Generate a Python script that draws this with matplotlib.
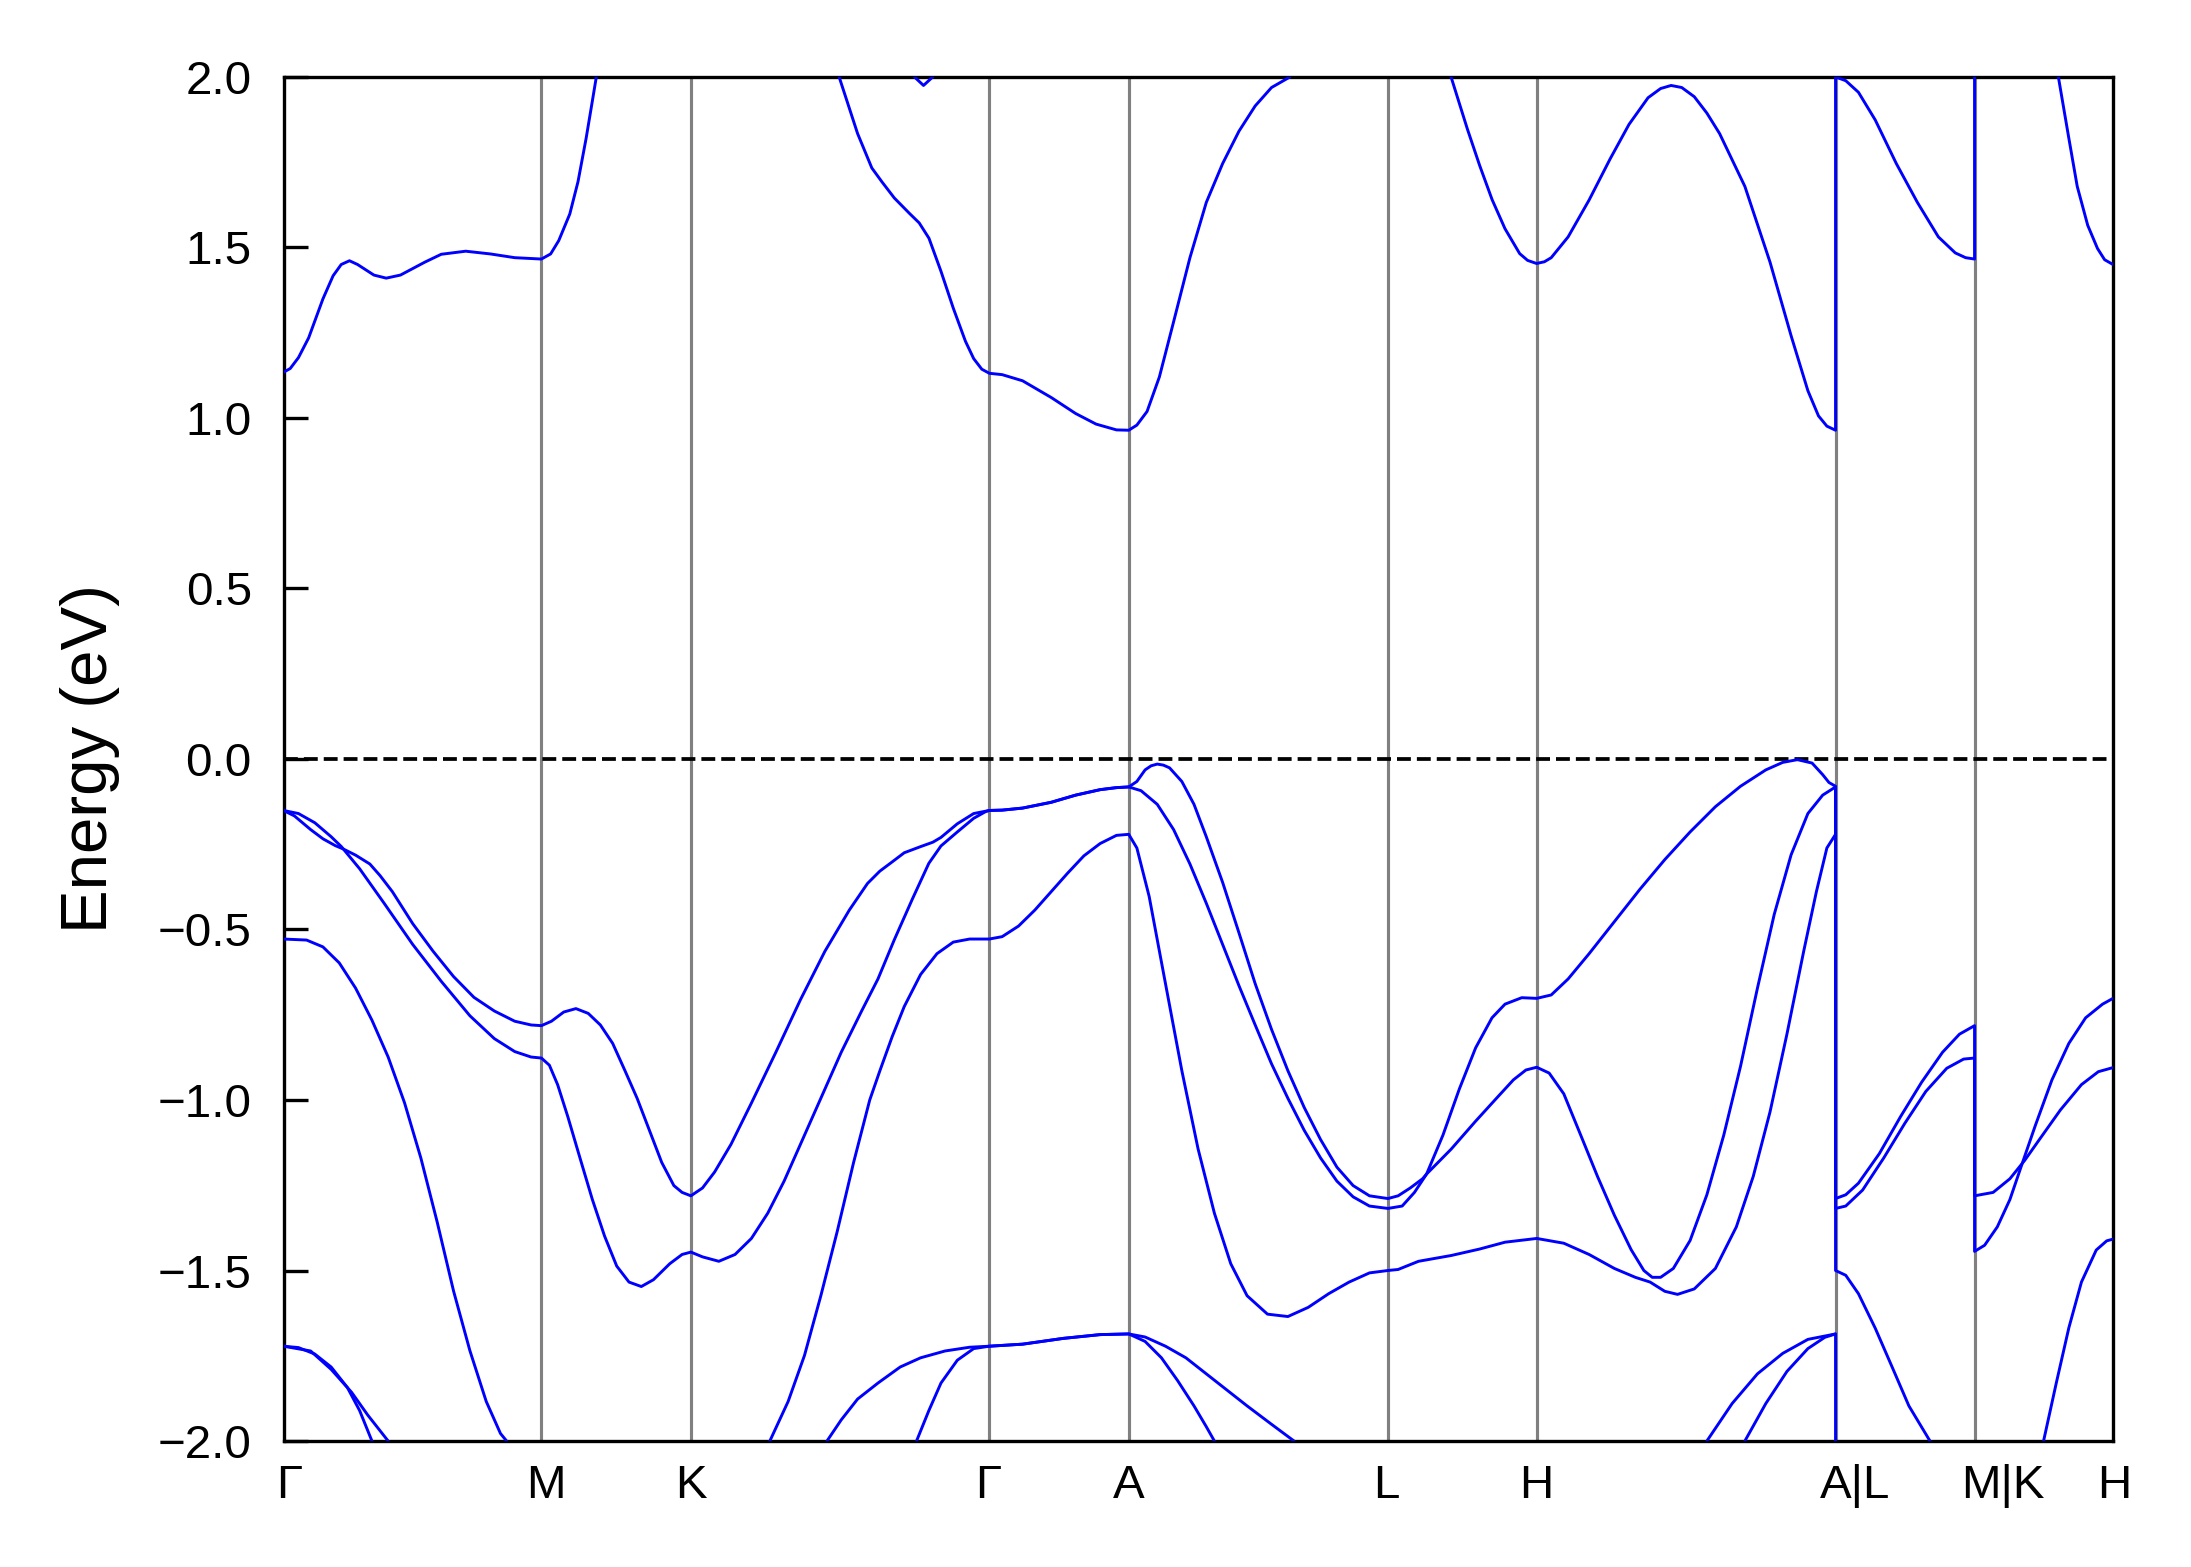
import numpy as np
import matplotlib
matplotlib.use("Agg")
import matplotlib.pyplot as plt
import matplotlib.transforms as mtrans

plt.rcParams['font.family'] = ['Liberation Sans', 'DejaVu Sans']

# High-symmetry path positions (k-path distance, arbitrary units) and labels
kpoint_pos = [0.0, 184.6, 291.6, 505.2, 605.0, 790.5, 897.0, 1110.9, 1210.4, 1309.5]
kpoint_labels = ['Γ', 'M', 'K', 'Γ', 'A', 'L', 'H', 'A|L', 'M|K', 'H']
energy_ticks = [-2.0, -1.5, -1.0, -0.5, 0.0, 0.5, 1.0, 1.5, 2.0]
energy_limits = (-2.0, 2.0)
fermi_level = 0.0

BRK = (np.nan, np.nan)

# Conduction bands (k, E in eV); BRK = band leaves the window
cb1 = [(0, 1.134), (4.8, 1.145), (10.7, 1.177), (18.0, 1.235), (28.2, 1.349), (35.5, 1.417),
       (41.3, 1.450), (47.2, 1.461), (53.0, 1.450), (64.7, 1.419), (73.5, 1.410), (83.7, 1.419),
       (101.2, 1.457), (112.9, 1.480), (130.4, 1.489), (148.0, 1.481), (165.5, 1.470), (184.6, 1.466),
       (191.2, 1.481), (197.0, 1.520), (204.9, 1.598), (210.8, 1.693), (216.6, 1.820), (221.0, 1.928),
       (223.9, 2.0), BRK,
       (397.7, 2.0), (410.9, 1.834), (421.1, 1.733), (428.4, 1.692), (437.2, 1.645), (448.0, 1.600),
       (455.0, 1.572), (462.0, 1.527), (470.6, 1.430), (479.4, 1.322), (488.1, 1.225), (494.0, 1.174),
       (499.8, 1.143), (505.2, 1.131), (514.4, 1.127), (529.0, 1.109), (549.5, 1.060), (567.0, 1.013),
       (581.6, 0.982), (596.2, 0.965), (605.0, 0.964), (610.8, 0.979), (618.1, 1.019), (626.9, 1.120),
       (637.1, 1.282), (648.8, 1.470), (660.5, 1.632), (672.2, 1.746), (683.9, 1.841), (695.5, 1.915),
       (707.2, 1.969), (720.4, 2.0), BRK,
       (835.7, 2.0), (847.4, 1.847), (856.2, 1.740), (865.1, 1.640), (874.3, 1.555), (884.8, 1.482),
       (890.5, 1.462), (896.9, 1.453), (902.5, 1.458), (907.4, 1.470), (919.5, 1.531), (934.5, 1.639),
       (949.6, 1.760), (963.1, 1.861), (976.7, 1.939), (985.7, 1.966), (993.2, 1.975), (1000.8, 1.969),
       (1009.8, 1.942), (1018.8, 1.894), (1027.9, 1.834), (1046.0, 1.679), (1064.0, 1.457),
       (1079.1, 1.241), (1091.1, 1.080), (1098.7, 1.006), (1104.7, 0.976), (1110.9, 0.964), (1110.9, 2.0),
       (1118.2, 1.989), (1127.3, 1.955), (1139.3, 1.874), (1154.4, 1.746), (1169.5, 1.632), (1184.5, 1.531),
       (1196.6, 1.484), (1204.0, 1.470), (1210.4, 1.466), (1210.4, 2.0), BRK,
       (1270.4, 2.0), (1277.9, 1.820), (1283.9, 1.679), (1291.4, 1.565), (1298.4, 1.497), (1303.5, 1.464),
       (1309.5, 1.450)]

cb2 = [(451.6, 2.0), (458.1, 1.975), (464.7, 2.0)]

# Valence bands
vb1 = [(0, -0.151), (7.8, -0.167), (19.4, -0.207), (28.2, -0.234), (37.0, -0.254), (42.8, -0.264),
       (51.6, -0.282), (61.8, -0.308), (69.1, -0.342), (77.9, -0.389), (92.5, -0.483), (107.1, -0.564),
       (121.7, -0.638), (136.3, -0.699), (150.9, -0.739), (165.5, -0.769), (177.2, -0.780), (184.6, -0.782),
       (191.8, -0.769), (200.6, -0.742), (209.3, -0.732), (218.1, -0.746), (226.8, -0.780), (235.6, -0.834),
       (244.4, -0.914), (253.1, -0.995), (261.9, -1.089), (270.7, -1.183), (279.4, -1.251), (285.3, -1.271),
       (291.6, -1.281), (299.9, -1.258), (308.6, -1.211), (320.3, -1.130), (334.9, -1.009), (352.4, -0.860),
       (370.0, -0.706), (387.5, -0.564), (405.0, -0.443), (418.0, -0.365), (426.8, -0.329), (435.6, -0.302),
       (444.3, -0.275), (456.0, -0.257), (464.8, -0.244), (470.6, -0.230), (482.3, -0.190), (494.0, -0.160),
       (505.2, -0.151), (514.4, -0.150), (529.0, -0.144), (549.5, -0.127), (567.0, -0.106), (584.5, -0.090),
       (596.2, -0.084), (605.0, -0.082), (610.8, -0.066), (616.7, -0.032), (621.0, -0.020), (625.4, -0.015),
       (629.8, -0.018), (634.2, -0.026), (643.0, -0.066), (651.7, -0.133), (660.5, -0.228), (672.2, -0.362),
       (683.9, -0.510), (695.5, -0.659), (707.2, -0.793), (718.9, -0.914), (730.6, -1.022), (742.3, -1.116),
       (754.0, -1.197), (765.6, -1.251), (777.3, -1.281), (790.5, -1.289), (797.8, -1.281), (806.5, -1.258),
       (815.3, -1.231), (818.2, -1.217), (835.8, -1.144), (853.3, -1.062), (868.2, -0.995), (880.3, -0.941),
       (889.3, -0.912), (897.0, -0.904), (905.9, -0.921), (916.4, -0.982), (928.5, -1.103), (940.5, -1.224),
       (952.6, -1.338), (964.6, -1.439), (973.7, -1.500), (979.7, -1.520), (985.7, -1.520), (994.8, -1.494),
       (1006.8, -1.412), (1018.8, -1.278), (1030.9, -1.103), (1042.9, -0.901), (1055.0, -0.672),
       (1067.0, -0.456), (1079.1, -0.281), (1091.1, -0.160), (1101.7, -0.106), (1110.9, -0.082),
       (1110.9, -1.289), (1118.2, -1.278), (1127.3, -1.244), (1142.3, -1.157), (1157.4, -1.049),
       (1172.5, -0.948), (1187.5, -0.860), (1199.6, -0.807), (1210.4, -0.782), (1210.4, -1.281),
       (1223.7, -1.271), (1235.7, -1.231), (1246.3, -1.177), (1256.8, -1.116), (1271.9, -1.029),
       (1286.9, -0.955), (1299.0, -0.917), (1309.5, -0.905)]

vb2 = [(0, -0.151), (10.7, -0.160), (22.4, -0.187), (34.1, -0.228), (41.4, -0.257), (54.5, -0.322),
       (72.0, -0.423), (92.5, -0.544), (112.9, -0.652), (133.4, -0.753), (150.9, -0.820), (165.5, -0.858),
       (177.2, -0.874), (184.6, -0.877), (190.3, -0.898), (196.2, -0.955), (203.5, -1.049), (212.2, -1.170),
       (221.0, -1.291), (229.8, -1.399), (238.5, -1.487), (247.3, -1.534), (256.1, -1.547), (264.8, -1.527),
       (276.5, -1.480), (285.3, -1.453), (291.6, -1.446), (299.9, -1.460), (311.6, -1.473), (323.2, -1.453),
       (334.9, -1.406), (346.6, -1.332), (358.3, -1.238), (370.0, -1.130), (384.6, -0.995), (399.2, -0.860),
       (413.8, -0.739), (425.5, -0.645), (437.2, -0.530), (450.2, -0.410), (461.9, -0.306), (470.6, -0.255),
       (482.3, -0.214), (494.0, -0.174), (502.7, -0.154), (505.2, -0.151), (514.4, -0.150), (529.0, -0.144),
       (549.5, -0.127), (567.0, -0.106), (584.5, -0.090), (596.2, -0.084), (605.0, -0.082), (613.8, -0.093),
       (625.4, -0.133), (637.1, -0.207), (648.8, -0.308), (660.5, -0.423), (672.2, -0.544), (683.9, -0.665),
       (695.5, -0.780), (707.2, -0.894), (718.9, -0.995), (730.6, -1.089), (742.3, -1.170), (754.0, -1.238),
       (765.6, -1.284), (777.3, -1.311), (790.5, -1.318), (800.7, -1.311), (809.5, -1.271), (818.2, -1.217),
       (829.9, -1.103), (841.6, -0.968), (853.3, -0.847), (865.0, -0.759), (874.3, -0.719), (886.3, -0.700),
       (897.0, -0.702), (907.4, -0.692), (919.5, -0.645), (934.5, -0.571), (952.6, -0.477), (970.7, -0.383),
       (988.7, -0.295), (1006.8, -0.214), (1024.9, -0.140), (1042.9, -0.080), (1061.0, -0.032),
       (1073.1, -0.010), (1083.6, -0.002), (1094.1, -0.012), (1101.7, -0.046), (1106.2, -0.069),
       (1110.9, -0.080), (1110.9, -1.318), (1118.2, -1.311), (1130.3, -1.264), (1145.4, -1.170),
       (1160.4, -1.069), (1175.5, -0.975), (1190.5, -0.907), (1202.6, -0.880), (1210.4, -0.877),
       (1210.4, -1.444), (1217.6, -1.426), (1226.7, -1.372), (1235.7, -1.292), (1244.7, -1.184),
       (1253.8, -1.076), (1265.8, -0.941), (1277.9, -0.834), (1289.9, -0.759), (1302.0, -0.719),
       (1309.5, -0.702)]

vb3 = [(0, -0.528), (16.5, -0.531), (28.2, -0.551), (39.9, -0.598), (51.6, -0.672), (63.3, -0.766),
       (74.9, -0.874), (86.6, -1.008), (98.3, -1.170), (110.0, -1.358), (121.7, -1.560), (133.4, -1.735),
       (145.1, -1.884), (155.3, -1.978), (159.7, -2.0), BRK,
       (348.1, -2.0), (361.2, -1.884), (372.9, -1.749), (384.6, -1.574), (396.3, -1.386), (408.0, -1.184),
       (419.6, -1.000), (426.8, -0.915), (435.6, -0.815), (444.3, -0.726), (456.0, -0.632), (467.7, -0.571),
       (479.4, -0.537), (491.1, -0.528), (505.2, -0.528), (514.4, -0.521), (526.1, -0.490), (537.8, -0.443),
       (549.5, -0.389), (561.2, -0.335), (572.9, -0.284), (584.5, -0.248), (596.2, -0.224), (605.0, -0.221),
       (610.8, -0.261), (619.6, -0.403), (631.3, -0.659), (643.0, -0.914), (654.6, -1.143), (666.3, -1.332),
       (678.0, -1.480), (689.7, -1.574), (704.3, -1.628), (718.9, -1.635), (733.5, -1.608), (748.1, -1.568),
       (762.7, -1.534), (777.3, -1.507), (790.5, -1.500), (797.8, -1.497), (812.4, -1.473), (835.8, -1.456),
       (856.2, -1.437), (874.3, -1.417), (897.0, -1.406), (916.4, -1.420), (934.5, -1.453), (952.6, -1.494),
       (967.6, -1.520), (978.2, -1.534), (988.7, -1.561), (997.8, -1.570), (1009.8, -1.554), (1024.9, -1.494),
       (1039.9, -1.372), (1052.0, -1.224), (1064.0, -1.035), (1076.1, -0.807), (1088.1, -0.564),
       (1097.2, -0.389), (1104.7, -0.261), (1110.9, -0.221), (1110.9, -1.500), (1118.2, -1.514),
       (1127.3, -1.568), (1139.3, -1.669), (1151.4, -1.783), (1163.4, -1.897), (1178.5, -2.0)]

vb4 = [(0, -1.722), (10.7, -1.726), (22.4, -1.745), (34.1, -1.783), (45.7, -1.843), (54.5, -1.911),
       (63.3, -2.0), BRK,
       (389.0, -2.0), (399.2, -1.938), (410.9, -1.877), (425.5, -1.830), (441.4, -1.783), (456.0, -1.756),
       (473.5, -1.736), (491.1, -1.725), (505.2, -1.722), (529.0, -1.716), (558.2, -1.699), (584.5, -1.688),
       (605.0, -1.686), (616.7, -1.695), (631.3, -1.722), (645.9, -1.756), (660.5, -1.803), (675.1, -1.850),
       (689.7, -1.897), (707.2, -1.951), (723.3, -2.0), BRK,
       (1018.8, -2.0), (1036.9, -1.890), (1055.0, -1.803), (1073.1, -1.743), (1091.1, -1.702),
       (1110.9, -1.686), (1110.9, -2.0), BRK,
       (1259.8, -2.0), (1268.9, -1.830), (1277.9, -1.668), (1286.9, -1.534), (1297.5, -1.440),
       (1305.0, -1.413), (1309.5, -1.408)]

vb5 = [(0, -1.722), (19.4, -1.736), (34.1, -1.790), (48.7, -1.857), (60.3, -1.924), (74.9, -2.0), BRK,
       (453.1, -2.0), (461.9, -1.911), (470.6, -1.830), (482.3, -1.763), (494.0, -1.729), (505.2, -1.722),
       (529.0, -1.716), (558.2, -1.699), (584.5, -1.688), (605.0, -1.686), (616.7, -1.708), (628.4, -1.756),
       (640.0, -1.823), (651.7, -1.897), (660.5, -1.958), (666.3, -2.0), BRK,
       (1046.0, -2.0), (1061.0, -1.890), (1076.1, -1.796), (1091.1, -1.729), (1103.2, -1.696),
       (1110.9, -1.686)]

bands = [cb1, cb2, vb1, vb2, vb3, vb4, vb5]

fig = plt.figure(figsize=(2191 / 300, 1567 / 300), dpi=300)
ax = fig.add_axes([0.1294, 0.0804, 0.8350, 0.8705])

for xv in kpoint_pos[1:-1]:
    ax.axvline(xv, color='#808080', lw=0.75, zorder=1)

ax.axhline(fermi_level, color='black', lw=0.9, linestyle=(0, (3.7, 1.6)), zorder=2)

for band in bands:
    arr = np.array(band, dtype=float)
    ax.plot(arr[:, 0], arr[:, 1], color='#0000ff', lw=0.7, zorder=3,
            solid_joinstyle='round', solid_capstyle='round')

ax.set_xlim(kpoint_pos[0], kpoint_pos[-1])
ax.set_ylim(*energy_limits)
ax.set_xticks(kpoint_pos)
ax.set_xticklabels(kpoint_labels)
ax.set_yticks(energy_ticks)
ax.set_yticklabels([f"{v:.1f}".replace('-', '\u2212') for v in energy_ticks])
ax.tick_params(axis='y', direction='in', length=5.8, width=0.8, labelsize=11.4, pad=7.6)
ax.tick_params(axis='x', length=0, labelsize=11.4, pad=5.5)
for s in ax.spines.values():
    s.set_linewidth(0.8)
ax.set_ylabel('Energy (eV)', fontsize=15.7, labelpad=9)

# small horizontal shifts of the x labels as placed in the reference (points)
label_shift_pt = [1.3, 1.0, 0.0, -0.3, 0.0, -0.5, 0.0, 4.6, 6.8, 0.2]
for lab, dx in zip(ax.get_xticklabels(), label_shift_pt):
    lab.set_transform(lab.get_transform() + mtrans.ScaledTranslation(dx / 72, 0, fig.dpi_scale_trans))

fig.savefig('out.png', dpi=300)
